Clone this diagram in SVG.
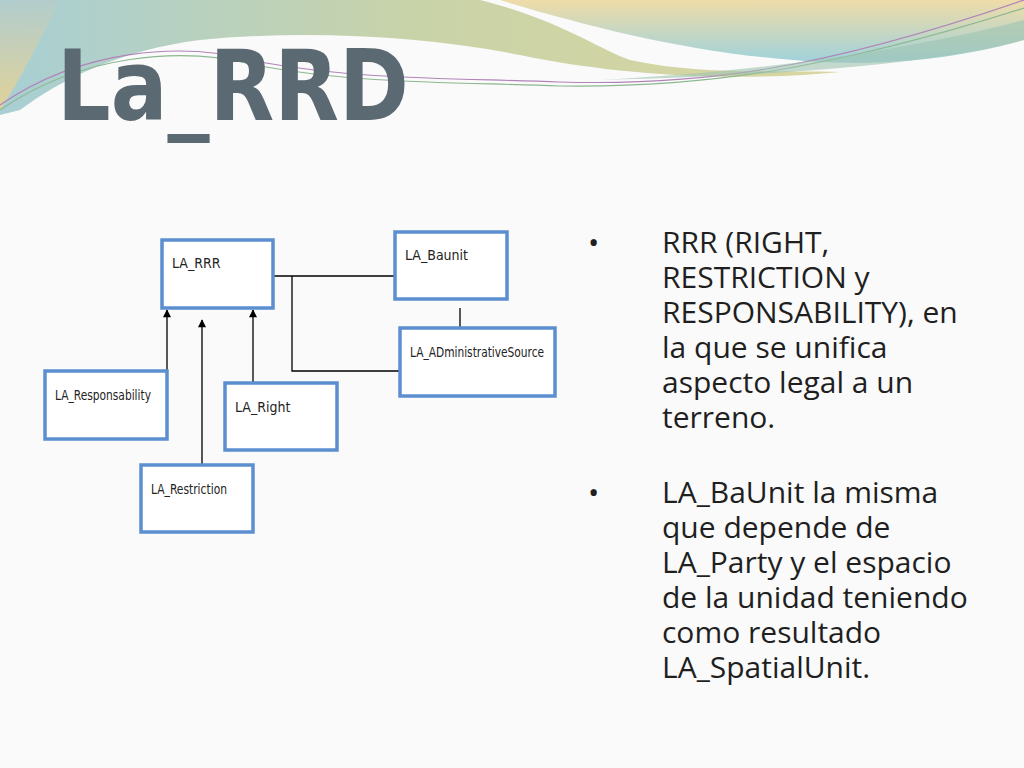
<svg xmlns="http://www.w3.org/2000/svg" width="1024" height="768" viewBox="0 0 1024 768">
<defs>
<linearGradient id="g1" x1="0" y1="0" x2="1" y2="0"><stop offset="0" stop-color="#a8cfd4"/><stop offset="0.5" stop-color="#c9d3a8"/><stop offset="1" stop-color="#d9d6a0"/></linearGradient>
<linearGradient id="g2" x1="0" y1="0" x2="0" y2="1"><stop offset="0" stop-color="#efdca8"/><stop offset="1" stop-color="#9fd2dc"/></linearGradient>
<linearGradient id="g3" x1="0" y1="0" x2="0" y2="1"><stop offset="0" stop-color="#b4cccc"/><stop offset="1" stop-color="#efd38a"/></linearGradient>
<marker id="arr" viewBox="0 0 10 10" refX="9" refY="5" markerWidth="9" markerHeight="8" orient="auto" markerUnits="userSpaceOnUse"><path d="M0,0 L10,5 L0,10 z" fill="#000"/></marker>
<style>
.box{fill:#fff;stroke:#5b8fd0;stroke-width:3.5}
.lbl{font-family:"DejaVu Sans Condensed","Open Sans",sans-serif;font-size:14px;fill:#222}
.ln{stroke:#000;stroke-width:1.3;fill:none}
.tx{font-family:"Open Sans","Liberation Sans",sans-serif;font-size:30px;fill:#1f1f1f}
</style>
</defs>
<rect width="1024" height="768" fill="#fafafa"/>
<path d="M0,0 H480 C560,20 600,50 630,60 C700,75 760,70 840,72 C760,80 640,80 520,55 C420,35 300,30 200,40 C120,50 60,80 20,110 L0,115 Z" fill="url(#g1)"/>
<path d="M500,0 H1024 V40 C970,55 900,66 820,62 C700,55 600,30 500,0 Z" fill="url(#g2)"/>
<path d="M0,0 H60 C40,40 20,80 0,110 Z" fill="url(#g3)" opacity="0.8"/>
<path d="M0,105 C80,50 180,40 260,62 C360,80 450,78 560,82 C700,86 820,70 1024,0" fill="none" stroke="#b084b8" stroke-width="1.2"/>
<path d="M0,110 C80,55 180,45 260,66 C360,84 450,82 560,86 C700,88 830,70 1024,8" fill="none" stroke="#8cb890" stroke-width="1.2"/>
<path d="M600,80 C800,70 950,40 1024,20 V40 C950,60 820,75 600,80 Z" fill="#9ec3b0" opacity="0.6"/>
<text x="57" y="120" font-family="'DejaVu Sans Condensed','Open Sans',sans-serif" font-weight="bold" font-size="98" fill="#5b6973" textLength="352" lengthAdjust="spacingAndGlyphs">La_RRD</text>
<g id="connectors">
<path class="ln" d="M273,276 H395"/>
<path class="ln" d="M292,276 V371 H400"/>
<path class="ln" d="M460,308 V328"/>
<path class="ln" d="M167,371 V310" marker-end="url(#arr)"/>
<path class="ln" d="M202,465 V320" marker-end="url(#arr)"/>
<path class="ln" d="M253,383 V310" marker-end="url(#arr)"/>
</g>
<g id="LA_RRR"><rect class="box" x="162" y="240" width="111" height="68"/><text class="lbl" x="172" y="268">LA_RRR</text></g>
<g id="LA_Baunit"><rect class="box" x="395" y="232" width="112" height="67"/><text class="lbl" x="405" y="260">LA_Baunit</text></g>
<g id="LA_ADministrativeSource"><rect class="box" x="400" y="328" width="155" height="68"/><text class="lbl" x="410" y="357" textLength="134" lengthAdjust="spacingAndGlyphs">LA_ADministrativeSource</text></g>
<g id="LA_Responsability"><rect class="box" x="45" y="371" width="122" height="68"/><text class="lbl" x="55" y="400" textLength="96" lengthAdjust="spacingAndGlyphs">LA_Responsability</text></g>
<g id="LA_Right"><rect class="box" x="225" y="383" width="112" height="67"/><text class="lbl" x="235" y="412">LA_Right</text></g>
<g id="LA_Restriction"><rect class="box" x="141" y="465" width="112" height="67"/><text class="lbl" x="151" y="494" textLength="76" lengthAdjust="spacingAndGlyphs">LA_Restriction</text></g>
<g id="text">
<text class="tx" x="588" y="253" font-size="22">•</text>
<text class="tx" x="662" y="253">RRR (RIGHT,</text>
<text class="tx" x="662" y="288">RESTRICTION y</text>
<text class="tx" x="662" y="323">RESPONSABILITY), en</text>
<text class="tx" x="662" y="358">la que se unifica</text>
<text class="tx" x="662" y="393">aspecto legal a un</text>
<text class="tx" x="662" y="428">terreno.</text>
<text class="tx" x="588" y="503" font-size="22">•</text>
<text class="tx" x="662" y="503">LA_BaUnit la misma</text>
<text class="tx" x="662" y="538">que  depende de</text>
<text class="tx" x="662" y="573">LA_Party y el espacio</text>
<text class="tx" x="662" y="608">de la unidad teniendo</text>
<text class="tx" x="662" y="643">como resultado</text>
<text class="tx" x="662" y="678">LA_SpatialUnit.</text>
</g>
</svg>
